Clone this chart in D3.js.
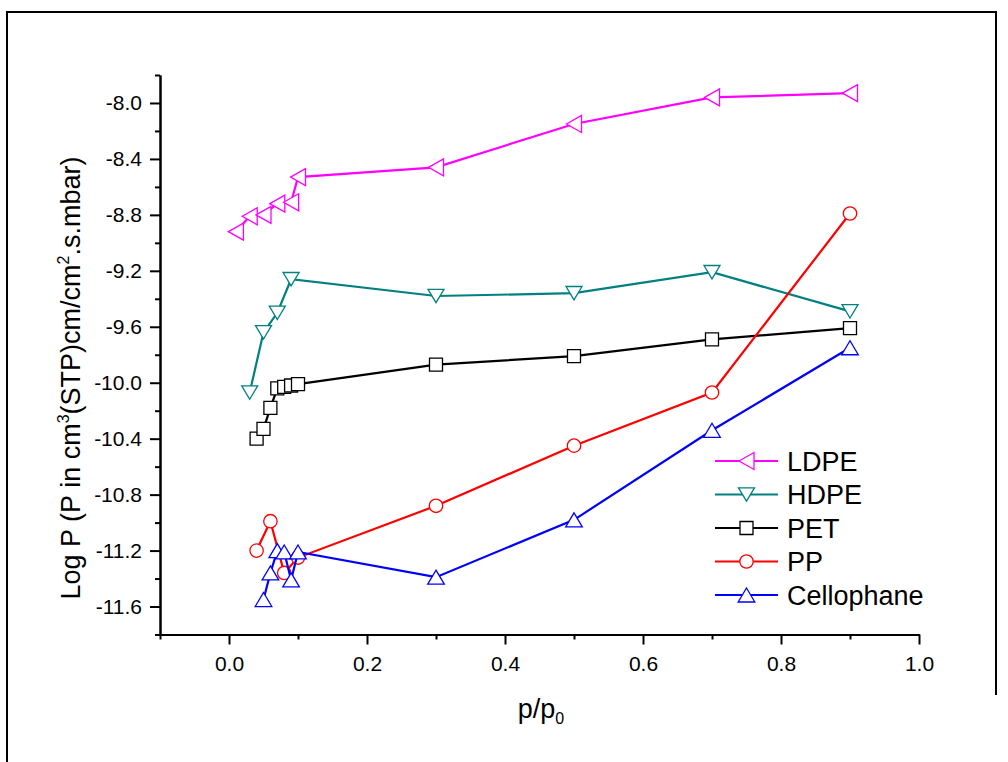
<!DOCTYPE html>
<html>
<head>
<meta charset="utf-8">
<script src="https://cdn.jsdelivr.net/npm/d3@7/dist/d3.min.js"></script>
<style>
  body { margin: 0; background: #fff; }
  svg { display: block; }
  text { font-family: "Liberation Sans", Arial, sans-serif; fill: #000; }
</style>
</head>
<body>
<div id="chart"></div>
<script>
// values
const seriesNames = ["LDPE", "HDPE", "PET", "PP", "Cellophane"]

const ldpeX = [0.01, 0.03, 0.05, 0.07, 0.09, 0.1, 0.3, 0.5, 0.7, 0.9]
const ldpeY = [-8.92, -8.81, -8.80, -8.72, -8.71, -8.53, -8.46, -8.15, -7.96, -7.93]

const hdpeX = [0.03, 0.05, 0.07, 0.09, 0.3, 0.5, 0.7, 0.9]
const hdpeY = [-10.07, -9.64, -9.50, -9.26, -9.38, -9.36, -9.21, -9.49]

const petX = [0.04, 0.05, 0.06, 0.07, 0.08, 0.09, 0.1, 0.3, 0.5, 0.7, 0.9]
const petY = [-10.40, -10.33, -10.18, -10.04, -10.03, -10.02, -10.01, -9.87, -9.81, -9.69, -9.61]

const ppX = [0.04, 0.06, 0.08, 0.1, 0.3, 0.5, 0.7, 0.9]
const ppY = [-11.20, -10.99, -11.36, -11.25, -10.88, -10.45, -10.07, -8.79]

const celloX = [0.05, 0.06, 0.07, 0.08, 0.09, 0.1, 0.3, 0.5, 0.7, 0.9]
const celloY = [-11.55, -11.36, -11.20, -11.21, -11.41, -11.21, -11.39, -10.98, -10.34, -9.75]

const xMajor = [0.0, 0.2, 0.4, 0.6, 0.8, 1.0]
const xMinor = [-0.1, 0.1, 0.3, 0.5, 0.7, 0.9]
const yMajor = [-8.0, -8.4, -8.8, -9.2, -9.6, -10.0, -10.4, -10.8, -11.2, -11.6]
const yMinor = [-7.8, -8.2, -8.6, -9.0, -9.4, -9.8, -10.2, -10.6, -11.0, -11.4, -11.8]

const W = 1008, H = 762

const svg = d3.select("#chart").append("svg")
    .attr("width", W)
    .attr("height", H)

// outer frame (only partly visible in the original)
svg.append("path")
    .attr("d", "M7,762 L7,12 L996,12 L996,695")
    .attr("fill", "none")
    .attr("stroke", "#000")
    .attr("stroke-width", 2)

const x = d3.scaleLinear().domain([-0.1, 1.0]).range([160, 919])
const y = d3.scaleLinear().domain([-11.8, -7.8]).range([634.5, 75])

// marker shapes, drawn around the point centre
const shapes = {
    left: "M-7.5,0L7.5,-8.5L7.5,8.5Z",
    down: "M-8,-6.7L8,-6.7L0,6.7Z",
    square: "M-6.5,-6.5H6.5V6.5H-6.5Z",
    up: "M0,-7L8.3,7L-8.3,7Z"
}

const series = [
    { name: seriesNames[0], xs: ldpeX, ys: ldpeY, color: "#ff00ff", shape: "left" },
    { name: seriesNames[1], xs: hdpeX, ys: hdpeY, color: "#008080", shape: "down" },
    { name: seriesNames[2], xs: petX, ys: petY, color: "#000000", shape: "square" },
    { name: seriesNames[3], xs: ppX, ys: ppY, color: "#ff0000", shape: "circle" },
    { name: seriesNames[4], xs: celloX, ys: celloY, color: "#0000ff", shape: "up" }
]

// axes
const xAxisG = svg.append("g").attr("transform", "translate(0," + y(-11.8) + ")")
xAxisG.call(d3.axisBottom(x).tickValues(xMinor).tickSize(5).tickSizeOuter(0).tickFormat(""))
xAxisG.append("g").call(d3.axisBottom(x).tickValues(xMajor).tickSize(10).tickSizeOuter(0)
    .tickPadding(12).tickFormat(d => d.toFixed(1)))

const yAxisG = svg.append("g").attr("transform", "translate(" + x(-0.1) + ",0)")
yAxisG.call(d3.axisLeft(y).tickValues(yMinor).tickSize(5).tickSizeOuter(0).tickFormat(""))
yAxisG.append("g").call(d3.axisLeft(y).tickValues(yMajor).tickSize(10).tickSizeOuter(0)
    .tickPadding(8).tickFormat(d => d.toFixed(1)))

svg.selectAll(".domain").attr("stroke-width", 2).attr("stroke", "#000")
svg.selectAll(".tick line").attr("stroke-width", 2).attr("stroke", "#000")
svg.selectAll(".tick text")
    .attr("font-size", 21)
    .attr("font-family", "Liberation Sans, Arial, sans-serif")
    .attr("fill", "#000")

// axis titles
const xt = svg.append("text")
    .attr("x", 541)
    .attr("y", 718)
    .attr("text-anchor", "middle")
    .attr("font-size", 27)
xt.append("tspan").text("p/p")
xt.append("tspan").attr("font-size", 16).attr("dy", 6).text("0")

const yt = svg.append("text")
    .attr("transform", "translate(80,378) rotate(-90)")
    .attr("text-anchor", "middle")
    .attr("font-size", 27)
yt.append("tspan").text("Log P (P in cm")
yt.append("tspan").attr("font-size", 16).attr("dy", -11).text("3")
yt.append("tspan").attr("dy", 11).text("(STP)cm/cm")
yt.append("tspan").attr("font-size", 16).attr("dy", -11).text("2")
yt.append("tspan").attr("dy", 11).text(".s.mbar)")

function drawMarker(g, shape, color) {
    if (shape === "circle") {
        g.append("circle").attr("r", 6.7)
            .attr("fill", "#fff").attr("stroke", color).attr("stroke-width", 1.3)
    } else {
        g.append("path").attr("d", shapes[shape])
            .attr("fill", "#fff").attr("stroke", color).attr("stroke-width", 1.3)
    }
}

const line = d3.line().x(d => x(d[0])).y(d => y(d[1]))

series.forEach(s => {
    const pts = s.xs.map((v, i) => [v, s.ys[i]])
    const g = svg.append("g")
    g.append("path")
        .attr("d", line(pts))
        .attr("fill", "none")
        .attr("stroke", s.color)
        .attr("stroke-width", 2.2)
    g.selectAll(".pt").data(pts).enter()
        .append("g")
        .attr("class", "pt")
        .attr("transform", d => "translate(" + x(d[0]) + "," + y(d[1]) + ")")
        .each(function () { drawMarker(d3.select(this), s.shape, s.color) })
})

// legend
const legend = svg.append("g")
series.forEach((s, i) => {
    const ly = 461 + i * 33.5
    legend.append("line")
        .attr("x1", 715).attr("x2", 778)
        .attr("y1", ly).attr("y2", ly)
        .attr("stroke", s.color).attr("stroke-width", 2.2)
    const m = legend.append("g").attr("transform", "translate(746.5," + ly + ")")
    drawMarker(m, s.shape, s.color)
    legend.append("text")
        .attr("x", 787)
        .attr("y", ly)
        .attr("dy", "0.36em")
        .attr("font-size", 27)
        .text(s.name)
})
</script>
</body>
</html>
